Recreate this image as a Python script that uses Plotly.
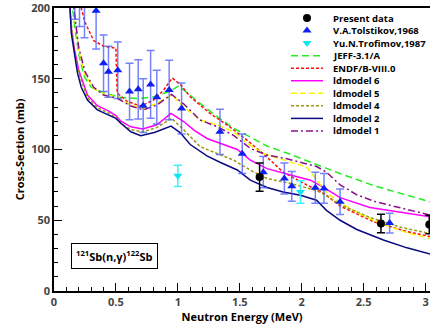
import plotly.graph_objects as go

# ---------------- data ----------------
present_x = [1.66, 2.64, 3.03]
present_y = [80.5, 47.7, 47.0]
present_err = [10.0, 6.5, 6.5]

tol_x = [0.168, 0.206, 0.246, 0.34, 0.40, 0.44, 0.515, 0.61, 0.68, 0.72, 0.78, 0.83, 0.93, 1.03,
         1.34, 1.52, 1.69, 1.86, 1.92, 2.11, 2.18, 2.31, 2.71]
tol_y = [215, 212, 213, 198, 161, 155, 156, 141, 142.5, 131, 146, 137, 142, 129,
         112.5, 97, 84, 79.5, 74, 73, 72.5, 63, 48]
tol_err_plus = [15, 15, 12, 27, 20, 18, 20, 20, 21, 19, 24, 19, 21, 18,
                16, 14, 11, 11, 10.5, 11, 10.5, 9, 7]
tol_err_minus = [23, 25, 34, 27, 20, 18, 20, 20, 21, 19, 24, 19, 21, 18,
                 16, 14, 11, 11, 10.5, 11, 10.5, 9, 7]

tro_x = [1.0, 1.99]
tro_y = [81.4, 70.0]
tro_err = [7.5, 8.0]

jeff_x = [0.12, 0.15, 0.17, 0.2, 0.245, 0.30, 0.41, 0.54, 0.675, 0.81, 0.945, 1.006, 1.18, 1.32, 1.45,
          1.585, 1.72, 1.91, 2.04, 2.31, 2.58, 2.85, 3.04]
jeff_y = [245, 200, 185, 167, 151.5, 144, 139.7, 136.9, 136, 137.3, 141.5, 145, 132.6, 123, 115,
          108.5, 102.5, 96.5, 92, 83, 74.5, 67.5, 63]

endf_x = [0.19, 0.22, 0.25, 0.28, 0.32, 0.40, 0.50, 0.51, 0.59, 0.70, 0.805, 0.885, 0.955, 1.02, 1.10,
          1.26, 1.42, 1.56, 1.69, 1.85, 2.04, 2.18, 2.31, 2.58, 2.85, 3.04]
endf_y = [225, 200, 190, 184, 177, 173, 171.5, 140, 134, 130.7, 135, 142, 150.5, 146, 137.3,
          125.5, 116, 106.5, 97, 84, 75, 69, 60, 49, 42, 38.5]

ld6_x = [0.10, 0.125, 0.14, 0.165, 0.2, 0.27, 0.35, 0.435, 0.50, 0.54, 0.62, 0.716, 0.83, 0.945, 1.05,
         1.13, 1.235, 1.37, 1.48, 1.585, 1.72, 1.91, 2.07, 2.18, 2.31, 2.55, 2.85, 3.04]
ld6_y = [260, 205, 186, 171, 156, 138.5, 131, 127.5, 124, 120, 116, 114.5, 117.5, 125.5, 119.6,
         113.7, 107.8, 103.5, 100, 92.5, 86.5, 82, 78.3, 73, 66, 59, 54.8, 52.5]

ld5_x = [0.12, 0.15, 0.2, 0.25, 0.32, 0.43, 0.51, 0.62, 0.72, 0.83, 0.95, 1.05, 1.18, 1.32, 1.45,
         1.56, 1.69, 1.85, 1.96, 2.04, 2.10, 2.20, 2.31, 2.445, 2.63, 2.85, 3.04]
ld5_y = [250, 205, 170, 153, 143, 138.5, 137.3, 131.4, 129, 132.6, 138.5, 130, 120.8, 117.3, 112.5,
         104.3, 97.2, 93, 90, 87.5, 81, 69.5, 62.5, 55.5, 48, 41.2, 37]

ld4_x = [0.10, 0.125, 0.165, 0.2, 0.27, 0.35, 0.435, 0.50, 0.54, 0.62, 0.716, 0.83, 0.95, 1.05, 1.18,
         1.32, 1.45, 1.585, 1.72, 1.91, 2.12, 2.18, 2.31, 2.55, 2.80, 3.04]
ld4_y = [255, 200, 169, 154, 136.5, 129.5, 126, 122.5, 118.5, 114, 112.5, 115.5, 122, 113.7, 102,
         97.2, 92.5, 85.4, 79.5, 76, 71, 68.5, 61, 52, 45, 40.5]

ld2_x = [0.10, 0.125, 0.14, 0.165, 0.19, 0.22, 0.27, 0.35, 0.435, 0.50, 0.54, 0.62, 0.70, 0.81, 0.945,
         1.02, 1.10, 1.14, 1.235, 1.34, 1.48, 1.585, 1.72, 1.85, 1.99, 2.12, 2.20, 2.31, 2.445, 2.66,
         2.85, 3.04]
ld2_y = [250, 200, 182, 168, 154, 144, 135, 128, 124.5, 122, 118.5, 112.5, 109.7, 112, 116.5,
         111.8, 103.5, 101, 95.5, 91, 85.5, 78.3, 73.2, 70, 67.7, 64.2, 57, 50, 43.5, 36,
         30.5, 26]

ld1_x = [0.12, 0.15, 0.2, 0.25, 0.32, 0.40, 0.51, 0.62, 0.72, 0.83, 0.95, 1.05, 1.18, 1.32, 1.45,
         1.585, 1.72, 1.88, 2.12, 2.20, 2.31, 2.445, 2.60, 2.85, 3.04]
ld1_y = [250, 207, 172, 155, 144, 138.5, 136.2, 130.7, 128, 131.4, 139, 132, 120.8, 116, 110,
         100.8, 96, 93.5, 88, 84, 75, 68, 63, 57.5, 53.6]

legend_labels = ["Present data", "V.A.Tolstikov,1968", "Yu.N.Trofimov,1987", "JEFF-3.1/A",
                 "ENDF/B-VIII.0", "ldmodel 6", "ldmodel 5", "ldmodel 4", "ldmodel 2", "ldmodel 1"]

x_ticks = [0, 0.5, 1, 1.5, 2, 2.5, 3]
x_tick_text = ["0", "0.5", "1", "1.5", "2", "2.5", "3"]
y_ticks = [0, 50, 100, 150, 200]

# ---------------- styles ----------------
FONT = "Open Sans"
W, H = 430, 330
ML, MR, MT, MB = 54, 0, 8, 39

curves = [
    (jeff_x, jeff_y, "#22ee22", "7px,4px", 1.5),
    (endf_x, endf_y, "#ff1010", "3px,2px", 1.5),
    (ld6_x, ld6_y, "#ff00ff", "solid", 1.5),
    (ld5_x, ld5_y, "#f5f500", "6px,3px", 1.5),
    (ld4_x, ld4_y, "#9a9a10", "3px,2px", 1.5),
    (ld2_x, ld2_y, "#0a0a80", "solid", 1.5),
    (ld1_x, ld1_y, "#8a108a", "7px,3px,2px,3px", 1.5),
]

fig = go.Figure()

for cx, cy, col, dash, w in curves:
    fig.add_trace(go.Scatter(x=cx, y=cy, mode="lines", line=dict(color=col, dash=dash, width=w),
                             showlegend=False, hoverinfo="skip"))

fig.add_trace(go.Scatter(
    x=tro_x, y=tro_y, mode="markers",
    marker=dict(symbol="triangle-down", color="#10e8f0", size=8),
    error_y=dict(type="data", array=tro_err, color="#40f0f8", thickness=1.5, width=4),
    showlegend=False))

fig.add_trace(go.Scatter(
    x=tol_x, y=tol_y, mode="markers",
    marker=dict(symbol="triangle-up", color="#1020f0", size=8),
    error_y=dict(type="data", symmetric=False, array=tol_err_plus, arrayminus=tol_err_minus,
                 color="rgba(70,90,250,0.75)", thickness=1.5, width=4),
    showlegend=False))

fig.add_trace(go.Scatter(
    x=present_x, y=present_y, mode="markers",
    marker=dict(symbol="circle", color="black", size=8),
    error_y=dict(type="data", array=present_err, color="black", thickness=1.5, width=4),
    showlegend=False))

# ---------------- manual legend (overlay axis in pixel units) ----------------
leg_y0, leg_dy = 18, 12.55
leg_line_x = [291, 323]
leg_mark_x = 307
leg_text_x = 331
leg_styles = [
    ("marker", "circle", "black"),
    ("marker", "triangle-up", "#1020f0"),
    ("marker", "triangle-down", "#10e8f0"),
] + [("line", c[3], c[2]) for c in curves]

for i, (kind, sty, col) in enumerate(leg_styles):
    yy = leg_y0 + i * leg_dy
    if kind == "marker":
        fig.add_trace(go.Scatter(x=[leg_mark_x], y=[yy], mode="markers", xaxis="x2", yaxis="y2",
                                 marker=dict(symbol=sty, color=col, size=8),
                                 showlegend=False, hoverinfo="skip"))
    else:
        fig.add_trace(go.Scatter(x=leg_line_x, y=[yy, yy], mode="lines", xaxis="x2", yaxis="y2",
                                 line=dict(color=col, dash=sty, width=1.5),
                                 showlegend=False, hoverinfo="skip"))
    fig.add_annotation(x=leg_text_x, y=yy, xref="x2", yref="y2", text=legend_labels[i],
                       showarrow=False, xanchor="left", yanchor="middle",
                       font=dict(family=FONT, size=9.5, color="black", weight="bold"))

# label box
fig.add_annotation(x=0.045, y=0.078, xref="paper", yref="paper",
                   text="<sup>121</sup>Sb(n,γ)<sup>122</sup>Sb", showarrow=False,
                   xanchor="left", yanchor="bottom",
                   font=dict(family=FONT, size=11, color="black", weight="bold"),
                   bordercolor="black", borderwidth=1, borderpad=4, bgcolor="white")

axis_font = dict(family=FONT, size=11, color="#444444", weight="bold")
title_font = dict(family=FONT, size=11, color="black", weight="bold")

fig.update_layout(
    width=W, height=H,
    margin=dict(l=ML, r=MR, t=MT, b=MB, autoexpand=False),
    paper_bgcolor="white", plot_bgcolor="white",
    xaxis=dict(range=[0, 3.036], tickvals=x_ticks, ticktext=x_tick_text, automargin=False,
               ticks="inside", ticklen=8, tickwidth=1.2, tickcolor="black",
               ticklabeloverflow="allow",
               minor=dict(dtick=0.1, ticks="inside", ticklen=4, tickwidth=1, tickcolor="black"),
               showline=True, linecolor="black", linewidth=1.5, mirror=True,
               showgrid=False, zeroline=False, tickfont=axis_font,
               title=dict(text="Neutron Energy (MeV)", font=title_font, standoff=3)),
    yaxis=dict(range=[0, 200], tickvals=y_ticks, automargin=False,
               ticks="inside", ticklen=8, tickwidth=1.2, tickcolor="black",
               ticklabeloverflow="allow",
               minor=dict(dtick=10, ticks="inside", ticklen=4, tickwidth=1, tickcolor="black"),
               showline=True, linecolor="black", linewidth=1.5, mirror=False,
               showgrid=False, zeroline=False, tickfont=axis_font,
               title=dict(text="Cross-Section (mb)", font=title_font, standoff=4)),
    xaxis2=dict(overlaying="x", range=[ML, W - MR], visible=False, fixedrange=True,
                automargin=False),
    yaxis2=dict(overlaying="y", range=[H - MB, MT], visible=False, fixedrange=True,
                automargin=False),
)

fig.write_html("out.html", config={"displayModeBar": False},
               post_script="document.body.style.margin='0';")
